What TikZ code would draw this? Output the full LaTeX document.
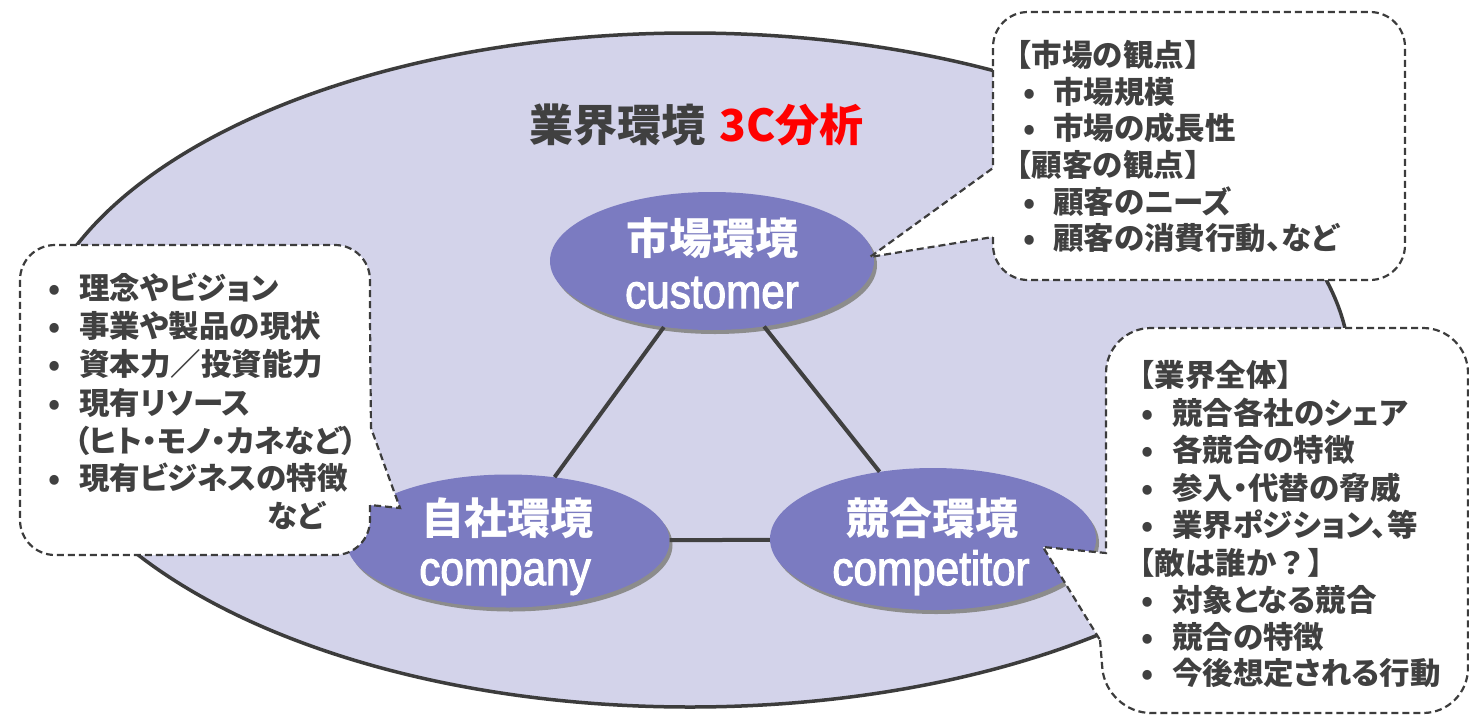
\documentclass[tikz,border=0pt]{standalone}
\usepackage{fontspec}
\usetikzlibrary{shapes.geometric,shadows}
\newfontfamily\jpfont{Noto Sans CJK JP}[RawFeature={+palt}]
\newfontfamily\jpplain{Noto Sans CJK JP}
\newfontfamily\enfont{Liberation Sans}[FakeBold=2.5]
\definecolor{bgfill}{HTML}{D3D3EA}
\definecolor{bubfill}{HTML}{7B7BC1}
\definecolor{tgray}{HTML}{404040}
\definecolor{lgray}{HTML}{3C3C3C}
\definecolor{titlered}{HTML}{FF0000}
\newcommand\bul{\makebox[0pt][c]{•}}
\begin{document}
\begin{tikzpicture}[x=1pt,y=-1pt,
  bigell/.style={ellipse, draw=lgray, line width=3.5pt, fill=bgfill, minimum width=1320pt, minimum height=674pt, inner sep=0},
  bub/.style={ellipse, fill=bubfill, inner sep=0, drop shadow={shadow xshift=3pt, shadow yshift=-4pt, fill=black!45, opacity=1}},
  conn/.style={draw=tgray, line width=4pt},
  jlab/.style={text=white, inner sep=0, anchor=base, font={\jpplain\bfseries\fontsize{43pt}{43pt}\selectfont}},
  elab/.style={text=white, inner sep=0, anchor=base, font={\enfont\fontsize{48pt}{48pt}\selectfont}},
  callout/.style={draw=lgray, fill=white, line width=2.2pt, dash pattern=on 7pt off 4pt},
  ctxt/.style={text=tgray, inner sep=0, anchor=base west, font={\jpfont\bfseries\fontsize{30.5pt}{30.5pt}\selectfont}},
  htxt/.style={ctxt, font={\jpplain\bfseries\fontsize{30.5pt}{30.5pt}\selectfont}},
]
\fill[white] (0,0) rectangle (1469,715);
\useasboundingbox (0,0) rectangle (1469,715);

\node[bigell] (env) at (690,370) {};

\node[bub, minimum width=324pt, minimum height=138pt] (cust) at (712,261) {};
\node[bub, minimum width=323pt, minimum height=133pt] (comp) at (508,541) {};
\node[bub, minimum width=326pt, minimum height=142pt] (compet) at (933,539) {};

\draw[conn] (cust) -- (comp);
\draw[conn] (cust) -- (compet);
\draw[conn] (comp) -- (compet);

\node[jlab] (custj) at (712,254) {市場環境};
\node[elab] (custe) at (712,308) {\scalebox{0.88}[1]{customer}};
\node[jlab] (compj) at (507,534) {自社環境};
\node[elab] (compe) at (505,585) {\scalebox{0.88}[1]{company}};
\node[jlab] (competj) at (932,534) {競合環境};
\node[elab] (compete) at (931,585) {\scalebox{0.88}[1]{competitor}};

\node[inner sep=0, anchor=base west, font={\jpplain\bfseries\fontsize{44pt}{44pt}\selectfont}] (title) at (529,141) {\textcolor{tgray}{業界環境}\hspace{14pt}\textcolor{titlered}{3C分析}};

\path[callout] (993,237) [rounded corners=35pt] -- (993,280) -- (1405,280) -- (1405,12) -- (993,12) -- (993,90) [sharp corners] -- (993,168) -- (870,257) -- cycle;
\path[callout] (370,505) [rounded corners=35pt] -- (370,555) -- (20,555) -- (20,245) -- (370,245) -- (370,330) [sharp corners] -- (371,428) -- (400,508) -- cycle;
\path[callout] (1100,640) [rounded corners=45pt] -- (1106,713) -- (1468,713) -- (1468,328) -- (1106,328) -- (1106,450) [sharp corners] -- (1106,553) -- (1043,547) -- cycle;

\node[htxt] (a1) at (1001,66) {【市場の観点】};
\node[ctxt] (a2) at (1029,103) {\bul\hspace{24pt}市場規模};
\node[ctxt] (a3) at (1029,139) {\bul\hspace{24pt}市場の成長性};
\node[htxt] (a4) at (1001,176) {【顧客の観点】};
\node[ctxt] (a5) at (1029,213) {\bul\hspace{24pt}顧客のニーズ};
\node[ctxt] (a6) at (1029,249) {\bul\hspace{24pt}顧客の消費行動、など};

\node[ctxt] (b1) at (54,299) {\bul\hspace{25pt}理念やビジョン};
\node[ctxt] (b2) at (54,337) {\bul\hspace{25pt}事業や製品の現状};
\node[ctxt] (b3) at (54,375) {\bul\hspace{25pt}資本力／投資能力};
\node[ctxt] (b4) at (54,414) {\bul\hspace{25pt}現有リソース};
\node[ctxt] (b5) at (74,452) {（ヒト・モノ・カネなど）};
\node[ctxt] (b6) at (54,489) {\bul\hspace{25pt}現有ビジネスの特徴};
\node[ctxt, anchor=base east] (b7) at (325,527) {など};

\node[htxt] (c1) at (1124,386) {【業界全体】};
\node[ctxt] (c2) at (1147,424) {\bul\hspace{25pt}競合各社のシェア};
\node[ctxt] (c3) at (1147,461) {\bul\hspace{25pt}各競合の特徴};
\node[ctxt] (c4) at (1147,499) {\bul\hspace{25pt}参入・代替の脅威};
\node[ctxt] (c5) at (1147,536) {\bul\hspace{25pt}業界ポジション、等};
\node[htxt] (c6) at (1124,574) {【敵は誰か？】};
\node[ctxt] (c7) at (1147,611) {\bul\hspace{25pt}対象となる競合};
\node[ctxt] (c8) at (1147,648) {\bul\hspace{25pt}競合の特徴};
\node[ctxt] (c9) at (1147,684) {\bul\hspace{25pt}今後想定される行動};
\end{tikzpicture}
\end{document}
